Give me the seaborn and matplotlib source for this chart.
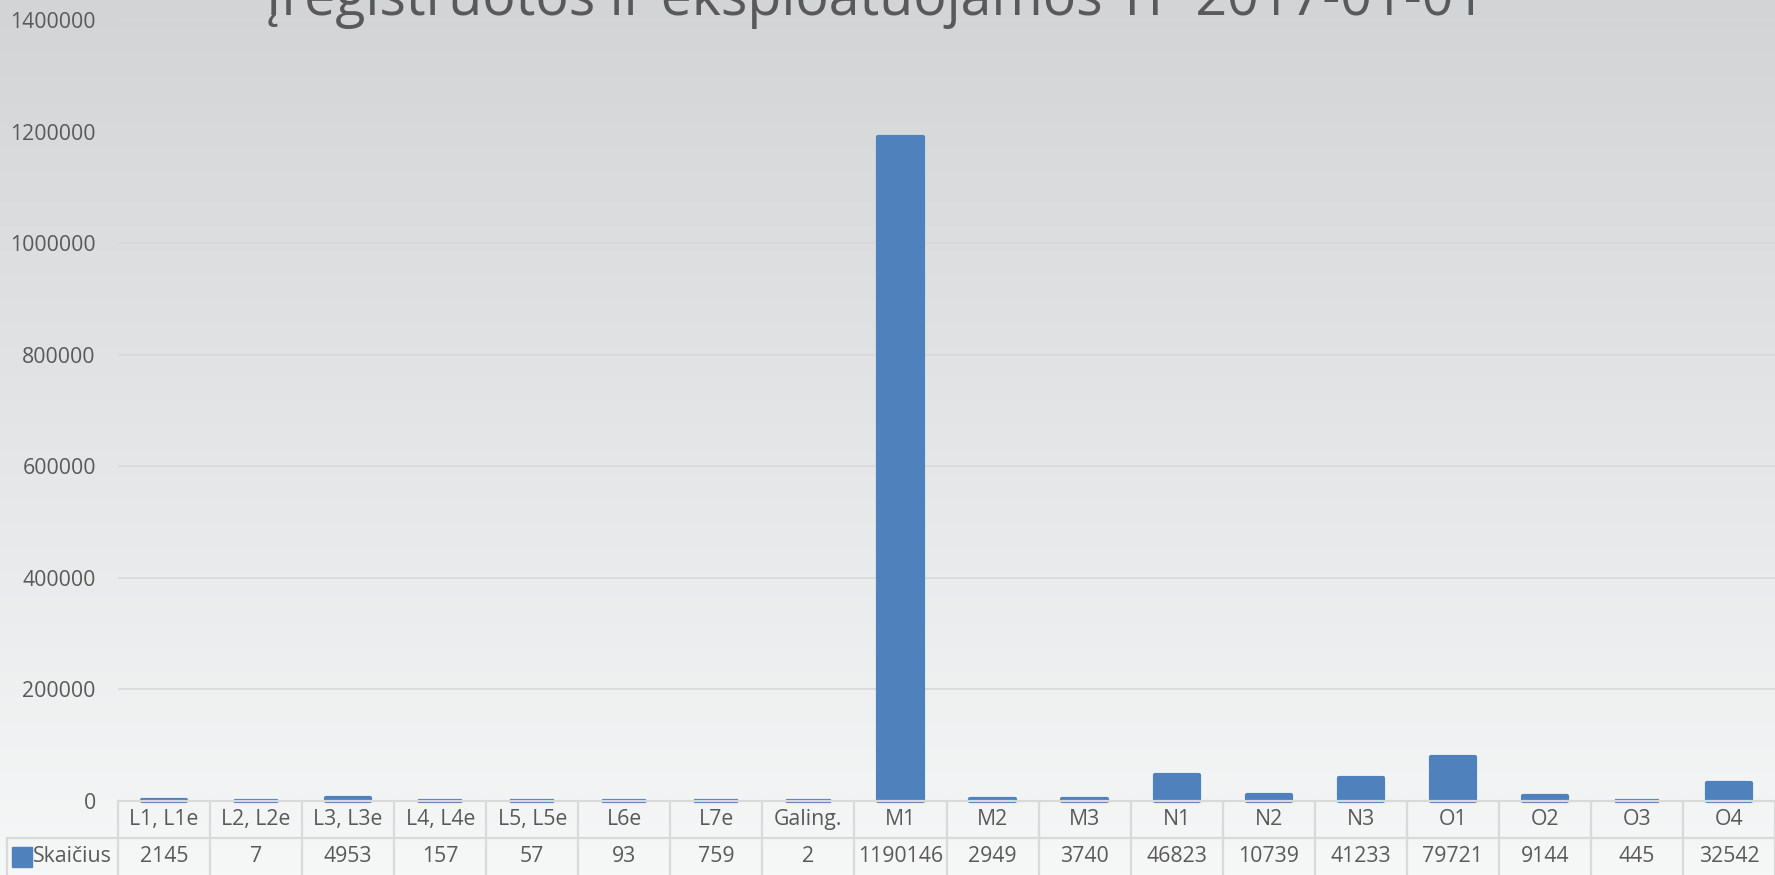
import numpy as np
import pandas as pd
import matplotlib.pyplot as plt
import seaborn as sns

# Data
categories = ['L1, L1e', 'L2, L2e', 'L3, L3e', 'L4, L4e', 'L5, L5e', 'L6e', 'L7e', 'Galing.',
              'M1', 'M2', 'M3', 'N1', 'N2', 'N3', 'O1', 'O2', 'O3', 'O4']
counts = [2145, 7, 4953, 157, 57, 93, 759, 2, 1190146, 2949, 3740, 46823, 10739, 41233,
          79721, 9144, 445, 32542]
series_name = 'Skaičius'
title = 'Įregistruotos ir eksploatuojamos TP 2017-01-01'
yticks = [0, 200000, 400000, 600000, 800000, 1000000, 1200000, 1400000]

df = pd.DataFrame({'kategorija': categories, 'skaicius': counts})

sns.set_theme(style="white")
plt.rcParams['font.family'] = ['Open Sans', 'DejaVu Sans']

BLUE = '#4F81BD'
TEXT = '#595959'
GRID = '#D9D9D9'
FS = 15.3

W, H = 1775, 875
fig = plt.figure(figsize=(W / 100, H / 100), dpi=100)

# background gradient (Excel style)
bg = fig.add_axes([0, 0, 1, 1], zorder=-10)
top_c = np.array([211, 212, 214]) / 255
bot_c = np.array([246, 247, 247]) / 255
t = np.linspace(0, 1, 256)[:, None]
grad = (top_c[None, :] * (1 - t) + bot_c[None, :] * t)[:, None, :]
bg.imshow(grad, aspect='auto', extent=[0, 1, 0, 1])
bg.set_axis_off()

# main plot area
left_px, zero_px, top_px = 118, 801, 20
ax = fig.add_axes([left_px / W, 1 - zero_px / H, (W - left_px) / W, (zero_px - top_px) / H])
ax.set_facecolor('none')
sns.barplot(data=df, x='kategorija', y='skaicius', color=BLUE, width=0.48,
            saturation=1, ax=ax, zorder=3)
for p in ax.patches:
    p.set_edgecolor(BLUE)
    p.set_linewidth(3)
    p.set_joinstyle('round')
    p.set_clip_on(False)

ax.set_xlim(-0.5, len(categories) - 0.5)
ax.set_ylim(0, 1400000)
ax.set_yticks(yticks)
ax.set_yticklabels([str(v) for v in yticks], color=TEXT, fontsize=FS)
ax.tick_params(axis='y', length=0, pad=16)
ax.set_xticks([])
ax.set_xlabel('')
ax.set_ylabel('')
for v in yticks[1:]:
    ax.axhline(v, color=GRID, lw=1.2, zorder=1)
for s in ax.spines.values():
    s.set_visible(False)

# data table under the chart
col_w = (W - left_px) / len(categories)
tab_left_px = 7
x0 = -0.5 - (left_px - tab_left_px) / col_w
tab = fig.add_axes([tab_left_px / W, 0, (W - tab_left_px) / W, 1 - zero_px / H])
tab.set_xlim(x0, len(categories) - 0.5)
tab.set_ylim(0, 2)
tab.set_axis_off()

lw_tab = 1.6
tab.plot([-0.5, len(categories) - 0.5], [2, 2], color=GRID, lw=lw_tab, clip_on=False, zorder=5)
tab.plot([x0, len(categories) - 0.5], [1, 1], color=GRID, lw=lw_tab, clip_on=False)
tab.plot([x0, x0], [0, 1], color=GRID, lw=lw_tab, clip_on=False)
for k in range(len(categories) + 1):
    tab.plot([k - 0.5, k - 0.5], [0, 2], color=GRID, lw=lw_tab, clip_on=False)

for i, (c, v) in enumerate(zip(categories, counts)):
    tab.text(i, 1.5, c, ha='center', va='center', color=TEXT, fontsize=FS)
    tab.text(i, 0.5, str(v), ha='center', va='center', color=TEXT, fontsize=FS)

key_x = x0 + 15.5 / col_w
tab.plot([key_x], [0.5], marker='s', ms=14, color=BLUE, clip_on=False)
tab.text(x0 + 26 / col_w, 0.5, series_name, ha='left', va='center', color=TEXT, fontsize=FS)

# title (partly cut off at the top, as in the source)
fig.text(876 / W, 1 - 15 / H, title, ha='center', va='baseline', color=TEXT, fontsize=40)

fig.savefig('out.png', dpi=100)
